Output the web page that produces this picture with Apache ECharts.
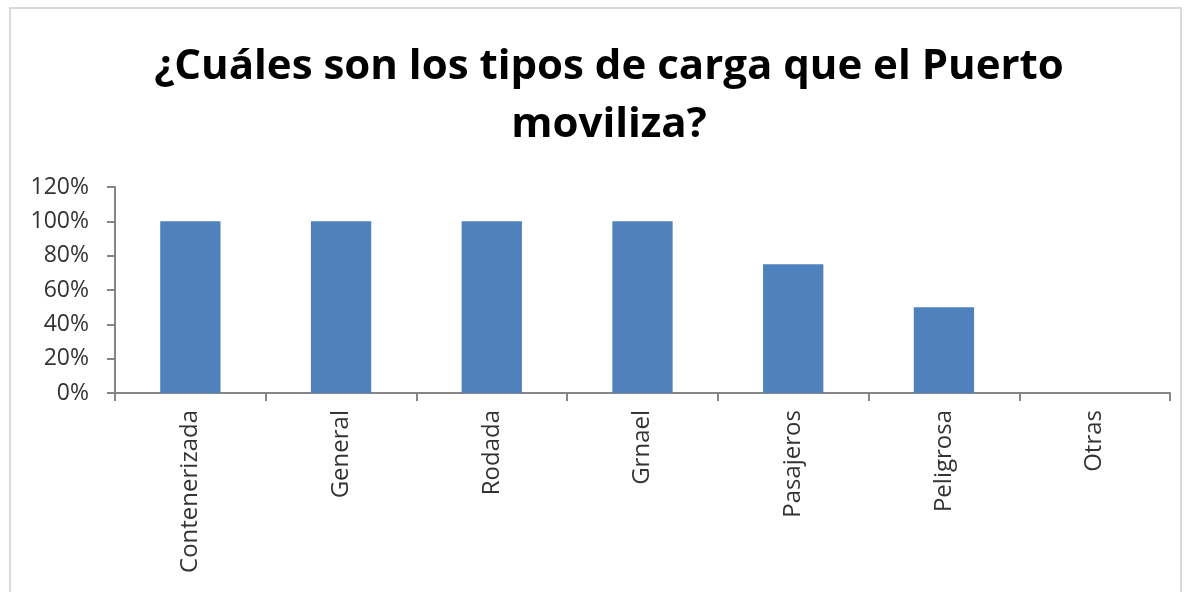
<!DOCTYPE html>
<html>
<head>
<meta charset="utf-8">
<script src="https://cdn.jsdelivr.net/npm/echarts@6/dist/echarts.min.js"></script>
<style>
  html, body { margin: 0; padding: 0; background: #fff; }
  #frame {
    position: absolute; left: 9px; top: 7px; width: 1173px; height: 600px;
    border: 2px solid #d9d9d9; box-sizing: border-box;
  }
  #chart { position: absolute; left: 0; top: 0; width: 1193px; height: 592px; }
</style>
</head>
<body>
<div id="frame"></div>
<div id="chart"></div>
<script>
  var categories = ['Contenerizada', 'General', 'Rodada', 'Grnael', 'Pasajeros', 'Peligrosa', 'Otras'];
  var values = [100, 100, 100, 100, 75, 50, 0];
  var titleText = '¿Cuáles son los tipos de carga que el Puerto\nmoviliza?';

  var axisColor = '#868686';
  var textColor = '#333333';

  var myChart = echarts.init(document.getElementById('chart'));
  myChart.setOption({
    animation: false,
    title: {
      text: titleText,
      left: 604,
      top: 33,
      textAlign: 'center',
      textStyle: {
        fontFamily: 'Open Sans',
        fontWeight: 'bold',
        fontSize: 42,
        lineHeight: 58,
        color: '#000'
      }
    },
    grid: {
      left: 115,
      right: 23,
      top: 187,
      height: 206,
      containLabel: false
    },
    xAxis: {
      type: 'category',
      data: categories,
      boundaryGap: true,
      axisLine: { show: true, lineStyle: { color: axisColor, width: 2 } },
      axisTick: { show: true, alignWithLabel: false, length: 8, lineStyle: { color: axisColor, width: 2 } },
      axisLabel: {
        rotate: 90,
        interval: 0,
        margin: 17,
        fontFamily: 'Open Sans',
        fontSize: 24,
        color: textColor
      }
    },
    yAxis: {
      type: 'value',
      min: 0,
      max: 120,
      interval: 20,
      axisLine: { show: true, lineStyle: { color: axisColor, width: 2 } },
      axisTick: { show: true, length: 8, lineStyle: { color: axisColor, width: 2 } },
      splitLine: { show: false },
      axisLabel: {
        formatter: '{value}%',
        margin: 26,
        fontFamily: 'Open Sans',
        fontSize: 23,
        color: textColor
      }
    },
    series: [{
      type: 'bar',
      data: values,
      barWidth: '40%',
      itemStyle: { color: '#4F81BD' }
    }]
  });
</script>
</body>
</html>
